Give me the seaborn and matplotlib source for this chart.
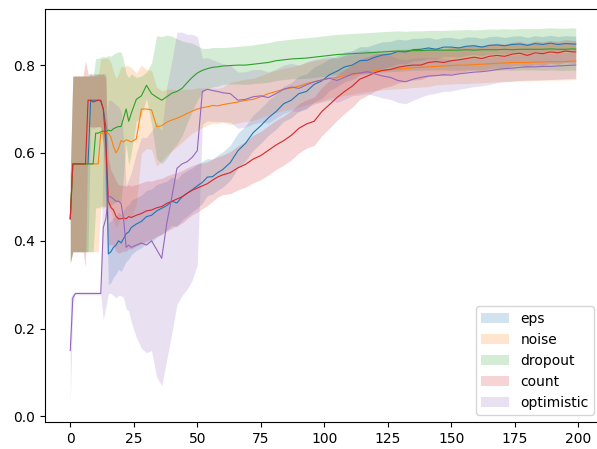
import numpy as np
import matplotlib
matplotlib.use("Agg")
import matplotlib.pyplot as plt
import seaborn as sns

# episodes at which the curves were sampled
x_steps = [0, 1, 2, 3, 4, 5, 6, 7, 8, 9, 10, 11, 12, 13, 14, 15, 16, 17, 18, 19, 20, 21, 22, 23, 24,
           26, 28, 30, 32, 34, 36, 38, 40, 42, 44, 46, 48, 50, 52, 54, 56, 58, 60,
           63, 66, 69, 72, 75, 78, 81, 84, 87, 90, 93, 96, 99, 102, 105, 108, 111, 114, 117, 120,
           123, 126, 129, 132, 135, 138, 141, 144, 147, 150, 153, 156, 159, 162, 165, 168, 171, 174,
           177, 180, 183, 186, 189, 192, 195, 198, 199]

labels = ["eps", "noise", "dropout", "count", "optimistic"]

eps_mean = [0.45, 0.575, 0.575, 0.575, 0.575, 0.575, 0.575, 0.575, 0.72, 0.72, 0.72, 0.72, 0.718, 0.70, 0.66,
            0.37, 0.375, 0.385, 0.39, 0.40, 0.395, 0.405, 0.416, 0.42, 0.43,
            0.438, 0.444, 0.455, 0.458, 0.468, 0.474, 0.48, 0.49, 0.486, 0.50, 0.508, 0.516, 0.525, 0.533,
            0.545, 0.546, 0.555, 0.562,
            0.578, 0.605, 0.622, 0.646, 0.662, 0.68, 0.694, 0.712, 0.72, 0.735, 0.74, 0.756, 0.764, 0.778,
            0.786, 0.796, 0.80, 0.81, 0.811, 0.818, 0.823, 0.825, 0.831, 0.83, 0.835, 0.836, 0.839, 0.836,
            0.841, 0.841, 0.839, 0.843, 0.844, 0.841, 0.845, 0.846, 0.844, 0.847, 0.848, 0.845, 0.849,
            0.847, 0.85, 0.847, 0.849, 0.848, 0.848]
eps_std = [0.1, 0.2, 0.2, 0.2, 0.2, 0.2, 0.2, 0.2, 0.06, 0.06, 0.06, 0.06, 0.06, 0.08, 0.12,
           0.07, 0.07, 0.068, 0.066, 0.065, 0.065, 0.064, 0.063, 0.062, 0.062,
           0.06, 0.06, 0.06, 0.06, 0.06, 0.058, 0.056, 0.055, 0.054, 0.053, 0.052, 0.05, 0.05, 0.048,
           0.042, 0.04, 0.04, 0.04,
           0.04, 0.04, 0.04, 0.04, 0.04, 0.04, 0.04, 0.04, 0.04, 0.04, 0.04, 0.04, 0.04,
           0.036, 0.035, 0.034, 0.033, 0.032, 0.031, 0.03, 0.03, 0.029, 0.028,
           0.027, 0.026, 0.025, 0.024, 0.023, 0.022, 0.022, 0.021, 0.021, 0.02, 0.02, 0.02, 0.02,
           0.019, 0.019, 0.019, 0.018, 0.018, 0.018, 0.018, 0.018, 0.018, 0.018, 0.018]

noise_mean = [0.45, 0.575, 0.575, 0.575, 0.575, 0.575, 0.575, 0.575, 0.575, 0.575, 0.575, 0.575,
              0.645, 0.645, 0.647, 0.645, 0.636, 0.615, 0.60, 0.61, 0.628, 0.625, 0.63, 0.628, 0.625,
              0.632, 0.70, 0.70, 0.698, 0.66, 0.662, 0.67, 0.675, 0.679, 0.684, 0.69, 0.695, 0.70, 0.703,
              0.705, 0.708, 0.707, 0.71,
              0.713, 0.716, 0.72, 0.722, 0.728, 0.735, 0.74, 0.745, 0.748, 0.752, 0.758, 0.762, 0.766,
              0.77, 0.772, 0.776, 0.778, 0.782, 0.785, 0.787, 0.789, 0.79, 0.791, 0.792, 0.794, 0.795,
              0.796, 0.797, 0.798, 0.799, 0.80, 0.80, 0.801, 0.802, 0.803, 0.804, 0.805, 0.806, 0.806,
              0.806, 0.807, 0.807, 0.808, 0.808, 0.808, 0.809, 0.809]
noise_std = [0.1, 0.2, 0.2, 0.2, 0.2, 0.2, 0.2, 0.2, 0.2, 0.2, 0.2, 0.2,
             0.17, 0.17, 0.17, 0.17, 0.17, 0.17, 0.17, 0.17, 0.17, 0.17, 0.17, 0.17, 0.17,
             0.15, 0.1, 0.09, 0.09, 0.09, 0.08, 0.075, 0.07, 0.065, 0.06, 0.055, 0.05, 0.048, 0.045,
             0.042, 0.04, 0.04, 0.04,
             0.048, 0.048, 0.048, 0.048, 0.048, 0.048, 0.048, 0.048, 0.048, 0.048, 0.048, 0.048, 0.048,
             0.045, 0.045, 0.045, 0.045, 0.045, 0.045, 0.045, 0.045, 0.045, 0.045, 0.045, 0.045, 0.045,
             0.045, 0.042, 0.042, 0.042, 0.042, 0.042, 0.042, 0.042, 0.042, 0.042, 0.042, 0.042, 0.042,
             0.042, 0.042, 0.042, 0.042, 0.042, 0.042, 0.042, 0.042]

dropout_mean = [0.45, 0.575, 0.575, 0.575, 0.575, 0.575, 0.575, 0.575, 0.575, 0.575,
                0.645, 0.645, 0.648, 0.65, 0.648, 0.652, 0.65, 0.655, 0.658, 0.66, 0.66, 0.68, 0.70,
                0.672, 0.69,
                0.722, 0.73, 0.754, 0.735, 0.727, 0.72, 0.728, 0.736, 0.74, 0.747, 0.76, 0.772, 0.782,
                0.788, 0.792, 0.795, 0.796, 0.798,
                0.799, 0.80, 0.80, 0.802, 0.804, 0.806, 0.81, 0.812, 0.814, 0.815, 0.816, 0.818, 0.82,
                0.822, 0.824, 0.825, 0.826, 0.827, 0.828, 0.829, 0.83, 0.831, 0.832, 0.832, 0.833, 0.833,
                0.834, 0.834, 0.834, 0.834, 0.834, 0.835, 0.834, 0.835, 0.835, 0.835, 0.836, 0.835, 0.836,
                0.836, 0.836, 0.836, 0.837, 0.836, 0.836, 0.837, 0.836]
dropout_std = [0.1, 0.2, 0.2, 0.2, 0.2, 0.2, 0.2, 0.2, 0.2, 0.2,
               0.17, 0.17, 0.17, 0.17, 0.17, 0.17, 0.17, 0.17, 0.17, 0.17, 0.17, 0.13, 0.08, 0.10, 0.09,
               0.05, 0.045, 0.03, 0.07, 0.14, 0.145, 0.14, 0.13, 0.12, 0.108, 0.092, 0.078, 0.062, 0.05,
               0.046, 0.045, 0.044, 0.042,
               0.042, 0.043, 0.044, 0.044, 0.045, 0.045, 0.045, 0.045, 0.045, 0.046, 0.046, 0.046, 0.046,
               0.046, 0.046, 0.046, 0.046, 0.046, 0.046, 0.046, 0.046, 0.046, 0.046,
               0.045, 0.045, 0.045, 0.045, 0.045, 0.045, 0.046, 0.046, 0.046, 0.046, 0.046, 0.047, 0.047,
               0.047, 0.047, 0.047, 0.047, 0.047, 0.048, 0.048, 0.048, 0.048, 0.048, 0.048]

count_mean = [0.45, 0.575, 0.575, 0.575, 0.575, 0.575, 0.575,
              0.72, 0.72, 0.716, 0.718, 0.72, 0.72, 0.70, 0.62, 0.49, 0.476, 0.47, 0.456, 0.45, 0.45,
              0.452, 0.45, 0.455, 0.453,
              0.458, 0.462, 0.468, 0.47, 0.475, 0.478, 0.485, 0.49, 0.495, 0.50, 0.508, 0.515, 0.52, 0.525,
              0.53, 0.538, 0.545, 0.55,
              0.555, 0.566, 0.574, 0.586, 0.594, 0.606, 0.618, 0.628, 0.64, 0.656, 0.666, 0.672, 0.694,
              0.71, 0.726, 0.74, 0.752, 0.768, 0.775, 0.783, 0.788, 0.79, 0.795, 0.798, 0.80, 0.80,
              0.806, 0.808, 0.806, 0.81, 0.812, 0.815, 0.818, 0.815, 0.82, 0.822, 0.82, 0.825, 0.827,
              0.822, 0.828, 0.826, 0.83, 0.828, 0.832, 0.83, 0.83]
count_std = [0.1, 0.2, 0.2, 0.2, 0.2, 0.2, 0.235, 0.06, 0.06, 0.06, 0.06, 0.06, 0.06,
             0.08, 0.15, 0.1, 0.085, 0.08, 0.08, 0.078, 0.076, 0.075, 0.074, 0.073, 0.072,
             0.07, 0.07, 0.068, 0.066, 0.065, 0.064, 0.063, 0.062, 0.06, 0.06, 0.058, 0.056, 0.055, 0.052,
             0.05, 0.048, 0.046, 0.045,
             0.048, 0.05, 0.052, 0.054, 0.055, 0.056, 0.056, 0.056, 0.056, 0.056, 0.055, 0.055, 0.055,
             0.054, 0.052, 0.05, 0.048, 0.046, 0.044, 0.042, 0.04, 0.038, 0.036,
             0.035, 0.034, 0.033, 0.032, 0.031, 0.03, 0.03, 0.03, 0.029, 0.029, 0.028, 0.028, 0.028,
             0.028, 0.027, 0.027, 0.027, 0.027, 0.027, 0.026, 0.026, 0.026, 0.026, 0.026]

optimistic_mean = [0.15, 0.27, 0.28, 0.28, 0.28, 0.28, 0.28, 0.28, 0.28, 0.28, 0.28, 0.28, 0.28,
                   0.43, 0.45, 0.50, 0.50, 0.495, 0.49, 0.49, 0.485, 0.45, 0.385, 0.39, 0.385,
                   0.39, 0.395, 0.39, 0.40, 0.38, 0.36, 0.44, 0.50, 0.565, 0.575, 0.58, 0.59, 0.605, 0.74,
                   0.745, 0.742, 0.74, 0.737,
                   0.735, 0.72, 0.722, 0.728, 0.73, 0.726, 0.735, 0.745, 0.75, 0.747, 0.755, 0.762, 0.766,
                   0.77, 0.765, 0.772, 0.78, 0.782, 0.785, 0.78, 0.775, 0.772, 0.765, 0.762, 0.768, 0.772,
                   0.775, 0.776, 0.778, 0.777, 0.78, 0.782, 0.784, 0.785, 0.787, 0.79, 0.792, 0.793, 0.795,
                   0.796, 0.796, 0.797, 0.797, 0.798, 0.799, 0.80, 0.80]
optimistic_std = [0.12, 0.01, 0.003, 0.003, 0.003, 0.003, 0.003, 0.003, 0.003, 0.003, 0.003, 0.003, 0.003,
                  0.21, 0.2, 0.22, 0.22, 0.22, 0.22, 0.215, 0.21, 0.18, 0.14, 0.15, 0.17,
                  0.21, 0.24, 0.245, 0.25, 0.29, 0.29, 0.31, 0.31, 0.31, 0.30, 0.29, 0.28, 0.26, 0.075,
                  0.072, 0.07, 0.068, 0.066,
                  0.065, 0.064, 0.063, 0.062, 0.06, 0.058, 0.056, 0.055, 0.054, 0.053, 0.052, 0.051, 0.05,
                  0.05, 0.05, 0.05, 0.05, 0.05, 0.05, 0.05, 0.05, 0.05, 0.05,
                  0.05, 0.048, 0.045, 0.042, 0.04, 0.038, 0.036, 0.035, 0.034, 0.033, 0.032, 0.031, 0.03,
                  0.03, 0.03, 0.03, 0.03, 0.03, 0.03, 0.03, 0.03, 0.03, 0.03, 0.03]

means = [eps_mean, noise_mean, dropout_mean, count_mean, optimistic_mean]
stds = [eps_std, noise_std, dropout_std, count_std, optimistic_std]
colors = sns.color_palette("tab10", 5)

fig = plt.figure(figsize=(5.97, 4.49), dpi=100)
ax = fig.add_axes([45 / 597, 27 / 449, 556 / 597, 413 / 449])

x = np.array(x_steps)
for name, m, s, c in zip(labels, means, stds, colors):
    m = np.array(m)
    s = np.array(s)
    sns.lineplot(x=x, y=m, ax=ax, color=c, lw=0.8, legend=False, errorbar=None)
    ax.fill_between(x, m - s, m + s, color=c, alpha=0.2, lw=0, label=name)

ax.legend(loc="lower right")
ax.set_xlabel("")
ax.set_ylabel("")

fig.savefig("out.png", dpi=100)
